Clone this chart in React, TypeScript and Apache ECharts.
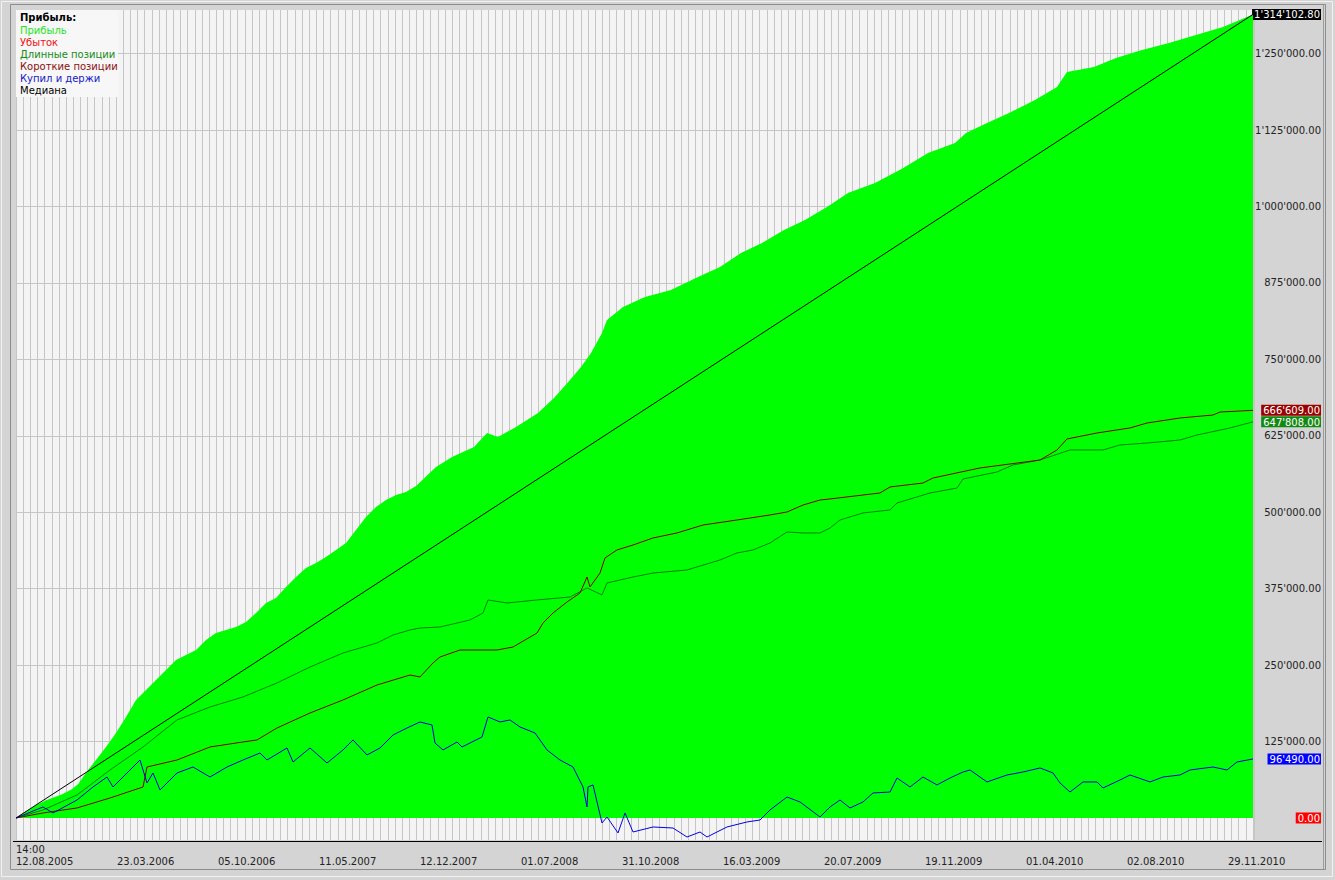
import React, { useEffect, useRef } from 'react';
import * as echarts from 'echarts';

const FONT = 'DejaVu Sans';

// x axis: trade number, a date label every 101 trades
const dateLabels = [
  '14:00\n12.08.2005', '23.03.2006', '05.10.2006', '11.05.2007', '12.12.2007',
  '01.07.2008', '31.10.2008', '16.03.2009', '20.07.2009', '19.11.2009',
  '01.04.2010', '02.08.2010', '29.11.2010',
];
const labelStep = 101;
const tradeMax = 1238;
const stripeStep = 7.15;

const yTicks = [125000, 250000, 375000, 500000, 625000, 750000, 875000, 1000000, 1125000, 1250000];

// [trade, value]
const profit = [
  [0, 0], [10, 11000], [20, 21000], [30, 29000], [45, 38000], [55, 46000], [62, 55000], [70, 74000],
  [80, 95000], [90, 116000], [100, 139000], [110, 165200], [120, 193000], [130, 209300], [140, 225700],
  [150, 242000], [160, 258400], [170, 266600], [180, 274700], [190, 291100], [200, 302500], [210, 307400],
  [220, 312300], [230, 320500], [240, 335200], [250, 351600], [260, 359800], [270, 377800], [280, 394100],
  [290, 408800], [300, 417000], [310, 426800], [320, 438300], [330, 449700], [340, 471000], [350, 492200],
  [360, 508600], [370, 520000], [380, 528200], [390, 533100], [400, 542900], [420, 574000], [436, 590300],
  [458, 606700], [471, 629600], [482, 623100], [500, 639400], [522, 662300], [538, 686800], [554, 716300],
  [565, 737500], [575, 760400], [586, 793100], [591, 814400], [607, 835600], [629, 852000], [655, 863400],
  [682, 884700], [704, 901000], [725, 923900], [746, 940300], [768, 961600], [789, 977900], [811, 999200],
  [832, 1022100], [859, 1038500], [886, 1061600], [912, 1087500], [939, 1103800], [950, 1120200],
  [971, 1136500], [993, 1152900], [1019, 1174100], [1041, 1195400], [1051, 1219900], [1078, 1228100],
  [1100, 1242800], [1126, 1255900], [1153, 1267400], [1180, 1280400], [1207, 1293500], [1237, 1314102.8],
];

const loss = [[0, 0], [1237, 0]];

const longs = [
  [0, 0], [27, 13100], [61, 37600], [94, 78500], [127, 116100], [161, 160300], [194, 181500], [227, 197900],
  [261, 220800], [294, 246900], [327, 269800], [361, 286200], [377, 299300], [394, 307400], [404, 310700],
  [424, 312300], [454, 323800], [467, 335200], [472, 356500], [491, 351600], [521, 356500], [554, 361400],
  [571, 376100], [586, 364700], [591, 384300], [617, 394100], [637, 400600], [671, 405600], [704, 421900],
  [721, 433400], [737, 438300], [754, 449700], [771, 467700], [787, 466100], [804, 466100], [814, 474200],
  [824, 487300], [847, 498800], [874, 503700], [881, 515100], [914, 531500], [941, 539600], [947, 554400],
  [981, 565800], [997, 577300], [1024, 585400], [1054, 601800], [1087, 601800], [1104, 610000],
  [1131, 613200], [1164, 618100], [1181, 626300], [1214, 637800], [1237, 647808],
];

const shorts = [
  [0, 0], [27, 8200], [61, 16400], [94, 32700], [127, 50700], [131, 83400], [161, 94800], [194, 116100],
  [227, 124300], [241, 127600], [261, 147200], [294, 171700], [327, 193000], [361, 217500], [394, 233800],
  [404, 230600], [417, 253500], [424, 263300], [444, 274700], [481, 274700], [497, 279600], [521, 302500],
  [527, 318900], [537, 335200], [551, 353200], [564, 367900], [571, 394100], [574, 377800], [584, 400600],
  [589, 425200], [601, 438300], [617, 446400], [637, 457900], [661, 466100], [687, 479100], [721, 487300],
  [754, 495500], [771, 500400], [787, 511800], [804, 520000], [814, 521700], [864, 531500], [874, 541300],
  [907, 547800], [917, 556000], [964, 572400], [1024, 585400], [1041, 601800], [1051, 619800],
  [1081, 629600], [1114, 637800], [1131, 645900], [1164, 654100], [1197, 659000], [1204, 663900],
  [1237, 666609],
];

const buyHold = [
  [0, 0], [27, 18000], [37, 8200], [61, 29400], [77, 50700], [91, 67000], [97, 50700], [111, 73600],
  [124, 94800], [131, 57200], [137, 73600], [144, 45800], [161, 73600], [177, 83400], [194, 67000],
  [211, 83400], [227, 94800], [244, 106300], [251, 94800], [271, 114500], [277, 91600], [294, 114500],
  [311, 89900], [327, 111200], [337, 127600], [351, 103000], [364, 114500], [377, 135700], [391, 147200],
  [404, 157000], [416, 152100], [419, 122600], [427, 111200], [441, 124300], [446, 116100], [466, 132500],
  [472, 165200], [484, 157000], [494, 160300], [504, 148800], [519, 139000], [531, 111200], [544, 94800],
  [557, 83400], [567, 50700], [571, 18000], [572, 50700], [577, 54000], [586, -8200], [591, 1600],
  [602, -24500], [609, 8200], [617, -22900], [637, -14700], [657, -16400], [671, -31100], [684, -22900],
  [691, -31100], [711, -14700], [731, -6500], [744, -3300], [754, 13100], [771, 34300], [784, 26200],
  [804, 1600], [814, 18000], [824, 29400], [834, 16400], [847, 26200], [857, 40900], [874, 42500],
  [881, 65400], [894, 50700], [907, 67000], [921, 54000], [934, 65400], [947, 75200], [954, 78500],
  [971, 58900], [991, 70300], [1007, 75200], [1024, 81800], [1037, 73600], [1044, 57200], [1054, 42500],
  [1067, 58900], [1081, 58900], [1087, 49100], [1104, 62100], [1114, 70300], [1134, 58900], [1147, 67000],
  [1164, 70300], [1174, 78500], [1197, 83400], [1211, 78500], [1221, 91600], [1237, 96490],
];

const median = [[0, 0], [1237, 1314102.8]];

const legendTitle = 'Прибыль:';
const legendNames = ['Прибыль', 'Убыток', 'Длинные позиции', 'Короткие позиции', 'Купил и держи', 'Медиана'];
const legendColors = ['#22e622', '#f01010', '#168a16', '#8b1010', '#1818c8', '#000000'];

const last = (s: number[][]) => s[s.length - 1][1];

const badges = [
  { value: last(median), bg: '#000000' },
  { value: last(shorts), bg: '#9a0000' },
  { value: last(longs), bg: '#128a12' },
  { value: last(buyHold), bg: '#0000ff' },
  { value: last(loss), bg: '#ff0000' },
];

function fmt(v: number) {
  const [i, d] = Math.abs(v).toFixed(2).split('.');
  return (v < 0 ? '-' : '') + i.replace(/\B(?=(\d{3})+(?!\d))/g, "'") + '.' + d;
}

const App: React.FC = () => {
  const chartRef = useRef<HTMLDivElement>(null);

  useEffect(() => {
    if (!chartRef.current) return;
    const chart = echarts.init(chartRef.current, undefined, { renderer: 'svg' });

    const rich: Record<string, any> = {};
    badges.forEach((b, i) => {
      rich['b' + i] = {
        backgroundColor: b.bg, color: '#ffffff', padding: [1, 1, 0, 2],
        fontFamily: FONT, fontSize: 10, lineHeight: 11,
      };
    });

    const lineSeries = (name: string, data: number[][], color: string, z: number) => ({
      type: 'line', name, data, symbol: 'none', silent: true, z,
      lineStyle: { color, width: 1 },
    });

    const legendGraphics: any[] = [
      { type: 'rect', z: 50, silent: true, shape: { x: 16, y: 10, width: 102, height: 87 }, style: { fill: '#f7f7f7' } },
      {
        type: 'text', z: 51, x: 20, y: 17.5,
        style: { text: legendTitle, fill: '#000', font: `bold 10px "${FONT}"`, verticalAlign: 'middle' },
      },
      ...legendNames.map((n, i) => ({
        type: 'text', z: 51, x: 20, y: 30 + i * 12.1,
        style: { text: n, fill: legendColors[i], font: `10px "${FONT}"`, verticalAlign: 'middle' },
      })),
    ];

    chart.setOption({
      animation: false,
      backgroundColor: '#d4d4d4',
      grid: {
        left: 16, right: 81, top: 10, bottom: 40,
        show: true, backgroundColor: '#f4f4f4', borderWidth: 0,
      },
      xAxis: [
        {
          type: 'value', min: 0, max: tradeMax, interval: labelStep,
          axisLine: { show: false }, axisTick: { show: false }, splitLine: { show: false },
          axisLabel: {
            align: 'left', verticalAlign: 'bottom', margin: 27, lineHeight: 12,
            fontFamily: FONT, fontSize: 10, color: '#222',
            formatter: (v: number) => {
              const i = Math.round(v / labelStep);
              return Math.abs(i * labelStep - v) < 0.5 && dateLabels[i] ? dateLabels[i] : '';
            },
          },
        },
        {
          type: 'value', position: 'top', min: 0, max: tradeMax, interval: stripeStep,
          axisLine: { show: false }, axisTick: { show: false }, axisLabel: { show: false },
          splitLine: { show: true, lineStyle: { color: '#c6c6c6', width: 1 } },
        },
      ],
      yAxis: {
        type: 'value', position: 'right', min: -36000, max: 1321300,
        axisLine: { show: false },
        axisTick: { show: false, customValues: yTicks },
        splitLine: { show: true, lineStyle: { color: '#c6c6c6', width: 1 } },
        axisLabel: {
          customValues: [...yTicks, ...badges.map((b) => b.value)],
          align: 'right', margin: 67, fontFamily: FONT, fontSize: 10, color: '#222',
          rich,
          formatter: (v: number) => {
            const k = badges.findIndex((b) => Math.abs(b.value - v) < 0.01);
            return k >= 0 ? `{b${k}|${fmt(v)}}` : fmt(v);
          },
        },
      },
      series: [
        {
          type: 'line', name: 'Прибыль', data: profit, symbol: 'none', silent: true, z: 2,
          lineStyle: { width: 0, color: '#00ff00' },
          areaStyle: { color: '#00ff00', opacity: 1 },
        },
        lineSeries('Длинные позиции', longs, '#008000', 3),
        lineSeries('Короткие позиции', shorts, '#850000', 4),
        lineSeries('Купил и держи', buyHold, '#0000e0', 5),
        lineSeries('Медиана', median, '#000000', 6),
      ],
      graphic: [
        { type: 'rect', z: 100, silent: true, shape: { x: 1.5, y: 1.5, width: 1331, height: 875 }, style: { fill: 'none', stroke: '#f2f2f2' } },
        { type: 'rect', z: 100, silent: true, shape: { x: 10.5, y: 4.5, width: 1315, height: 865 }, style: { fill: 'none', stroke: '#8c8c8c' } },
        { type: 'line', z: 100, silent: true, shape: { x1: 13, y1: 841.5, x2: 1322, y2: 841.5 }, style: { stroke: '#000', lineWidth: 1 } },
        { type: 'line', z: 100, silent: true, shape: { x1: 1323.5, y1: 5, x2: 1323.5, y2: 869 }, style: { stroke: '#9c9c9c', lineWidth: 1 } },
        ...legendGraphics,
      ],
    });

    return () => {
      chart.dispose();
    };
  }, []);

  return (
    <div
      ref={chartRef}
      style={{ position: 'fixed', left: 0, top: 0, width: 1335, height: 880, background: '#d4d4d4' }}
    />
  );
};

export default App;
